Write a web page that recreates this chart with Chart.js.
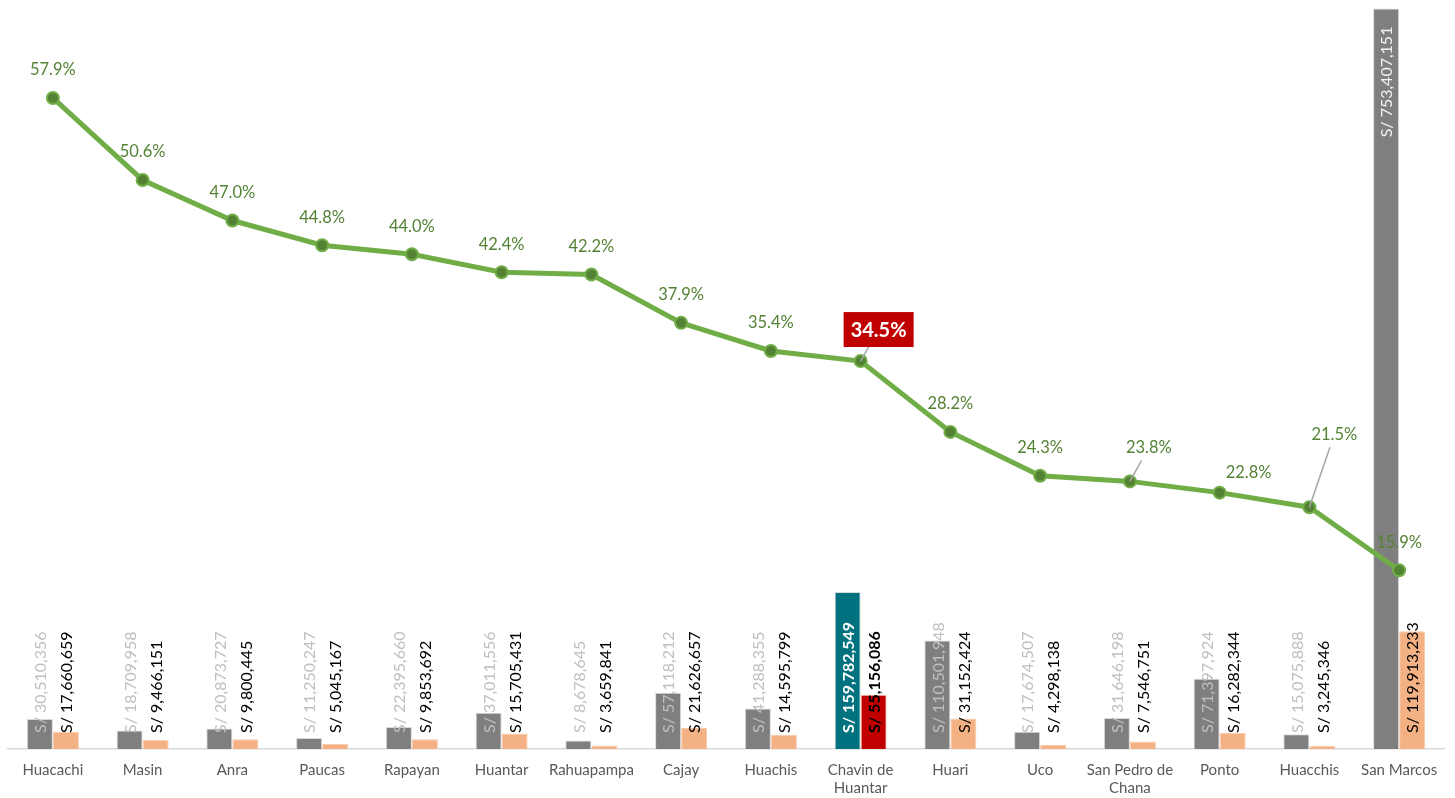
<!DOCTYPE html>
<html>
<head>
<meta charset="utf-8">
<script src="https://cdn.jsdelivr.net/npm/chart.js@4.4.1/dist/chart.umd.min.js"></script>
<style>
html, body { margin: 0; padding: 0; background: #fff; }
#wrap { width: 1455px; height: 798px; position: relative; }
</style>
</head>
<body>
<div id="wrap"><canvas id="chart"></canvas></div>
<script>
// Datos
const distritos = ['Huacachi', 'Masin', 'Anra', 'Paucas', 'Rapayan', 'Huantar', 'Rahuapampa', 'Cajay',
  'Huachis', 'Chavin de Huantar', 'Huari', 'Uco', 'San Pedro de Chana', 'Ponto', 'Huacchis', 'San Marcos'];
const pim = [30510356, 18709958, 20873727, 11250247, 22395660, 37011556, 8678645, 57118212,
  41288355, 159782549, 110501948, 17674507, 31646198, 71397924, 15075888, 753407151];
const devengado = [17660659, 9466151, 9800445, 5045167, 9853692, 15705431, 3659841, 21626657,
  14595799, 55156086, 31152424, 4298138, 7546751, 16282344, 3245346, 119913233];
const avance = [57.9, 50.6, 47.0, 44.8, 44.0, 42.4, 42.2, 37.9, 35.4, 34.5, 28.2, 24.3, 23.8, 22.8, 21.5, 15.9];

const destacado = 'Chavin de Huantar';
const hl = distritos.indexOf(destacado);

const FONT = 'Lato, "Open Sans", sans-serif';

// Estilos
const grisCol = distritos.map((d, i) => i === hl ? '#00727F' : '#7F7F7F');
const naranjaCol = distritos.map((d, i) => i === hl ? '#C00000' : '#F4B183');

// Desplazamiento de etiquetas del porcentaje (dx, dy) y lineas guia
const desplaz = { 9: [18, -32, true], 12: [19, -34, true], 13: [29, -20, false], 14: [25, -73, true] };

const fmt = v => 'S/ ' + v.toLocaleString('en-US');

function partir(s) {
  if (s.length <= 12) return s;
  const k = s.lastIndexOf(' ');
  return [s.slice(0, k), s.slice(k + 1)];
}

const etiquetas = {
  id: 'etiquetas',
  afterDatasetsDraw(chart) {
    const ctx = chart.ctx;
    const y = chart.scales.y;
    const base = y.getPixelForValue(0);

    // Etiquetas de barras
    [0, 1].forEach(di => {
      const meta = chart.getDatasetMeta(di);
      meta.data.forEach((bar, i) => {
        const v = chart.data.datasets[di].data[i];
        const alto = base - bar.y;
        ctx.save();
        ctx.textBaseline = 'middle';
        let color = di === 0 ? '#BFBFBF' : '#000000';
        let peso = '';
        if (i === hl) { color = di === 0 ? '#FFFFFF' : '#000000'; peso = 'bold '; }
        if (alto > 400) {
          color = '#F2F2F2';
          ctx.translate(bar.x, bar.y + 18);
          ctx.rotate(-Math.PI / 2);
          ctx.textAlign = 'right';
        } else {
          ctx.translate(bar.x, base - 16);
          ctx.rotate(-Math.PI / 2);
          ctx.textAlign = 'left';
        }
        ctx.fillStyle = color;
        ctx.font = peso + '16px ' + FONT;
        ctx.fillText(fmt(v), 0, 1);
        ctx.restore();
      });
    });

    // Etiquetas de la linea
    const meta = chart.getDatasetMeta(2);
    meta.data.forEach((pt, i) => {
      const txt = avance[i].toFixed(1) + '%';
      const d = desplaz[i] || [0, -28, false];
      const lx = pt.x + d[0], ly = pt.y + d[1];
      ctx.save();
      if (d[2]) {
        ctx.strokeStyle = '#A6A6A6';
        ctx.lineWidth = 1.5;
        ctx.beginPath();
        ctx.moveTo(pt.x, pt.y);
        const dyEnd = i === hl ? 18 : 13;
        const t = (d[1] + dyEnd) / d[1];
        ctx.lineTo(pt.x + d[0] * t, ly + dyEnd);
        ctx.stroke();
      }
      ctx.textAlign = 'center';
      ctx.textBaseline = 'middle';
      if (i === hl) {
        ctx.font = 'bold 20px ' + FONT;
        ctx.fillStyle = '#C00000';
        ctx.fillRect(lx - 35, ly - 17, 70, 35);
        ctx.fillStyle = '#FFFFFF';
        ctx.fillText(txt, lx, ly + 1);
      } else {
        ctx.font = '16.5px ' + FONT;
        ctx.fillStyle = '#548235';
        ctx.fillText(txt, lx, ly);
      }
      ctx.restore();
    });
  }
};

new Chart(document.getElementById('chart'), {
  type: 'bar',
  data: {
    labels: distritos,
    datasets: [
      {
        label: 'PIM',
        data: pim,
        backgroundColor: grisCol,
        borderColor: '#D9D9D9',
        borderWidth: 1,
        yAxisID: 'y',
        barPercentage: 1,
        categoryPercentage: 0.58,
        order: 2
      },
      {
        label: 'Devengado',
        data: devengado,
        backgroundColor: naranjaCol,
        borderColor: '#F8CBAD',
        borderWidth: 1,
        yAxisID: 'y',
        barPercentage: 1,
        categoryPercentage: 0.58,
        order: 2
      },
      {
        type: 'line',
        label: 'Avance',
        data: avance,
        yAxisID: 'y1',
        borderColor: '#70AD47',
        borderWidth: 5,
        pointRadius: 6,
        pointBorderWidth: 2,
        pointBackgroundColor: '#548235',
        pointBorderColor: '#70AD47',
        tension: 0,
        order: 0
      }
    ]
  },
  options: {
    responsive: true,
    maintainAspectRatio: false,
    animation: false,
    layout: { padding: { left: 6, right: 11, top: 7, bottom: 0 } },
    scales: {
      x: {
        grid: { display: false, drawTicks: false },
        border: { color: '#D9D9D9', width: 1.5 },
        ticks: {
          color: '#595959',
          font: { family: FONT, size: 15 },
          padding: 12,
          maxRotation: 0,
          autoSkip: false,
          callback: function (v) { return partir(this.getLabelForValue(v)); }
        },
        afterFit: s => { s.height = 49; }
      },
      y: { display: false, min: 0, max: 754000000 },
      y1: { display: false, min: 0, max: 65.9 }
    },
    plugins: {
      legend: { display: false },
      tooltip: { enabled: false }
    }
  },
  plugins: [etiquetas]
});
</script>
</body>
</html>
